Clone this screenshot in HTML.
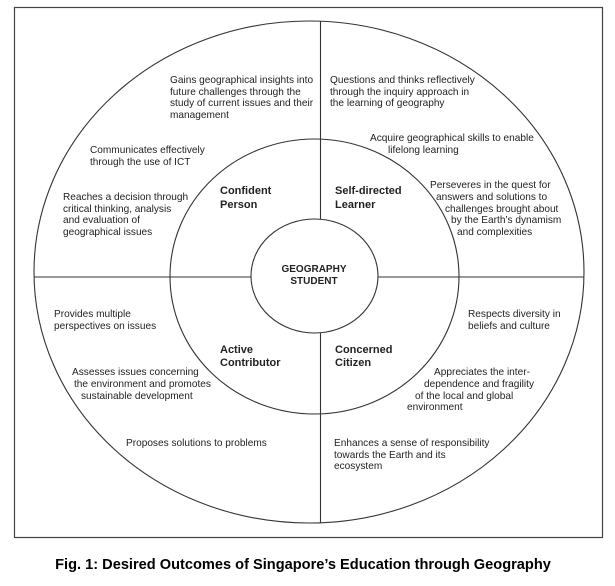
<!DOCTYPE html>
<html><head><meta charset="utf-8"><style>
html,body{margin:0;padding:0;background:#fff;}
svg{display:block;}
text{font-family:"Liberation Sans",Arial,sans-serif;fill:#222;}
.s{font-size:10.1px;}
.b{font-size:11px;font-weight:bold;}
.c{font-size:10px;font-weight:bold;}
</style></head><body>
<svg width="615" height="586" viewBox="0 0 615 586" xmlns="http://www.w3.org/2000/svg">
<rect x="14.5" y="7.5" width="588" height="530" fill="none" stroke="#444" stroke-width="1.2"/>
<g fill="none" stroke="#333" stroke-width="1.1">
<ellipse cx="309" cy="272" rx="275" ry="251"/>
<ellipse cx="314.5" cy="276.5" rx="144.5" ry="137.5"/>
<ellipse cx="314.5" cy="276" rx="63.5" ry="57"/>
<line x1="34" y1="277" x2="251" y2="277"/>
<line x1="378" y1="277" x2="584" y2="277"/>
<line x1="320.5" y1="21" x2="320.5" y2="219"/>
<line x1="320.5" y1="333" x2="320.5" y2="523"/>
</g>
<g class="s">
<text x="170" y="83">Gains geographical insights into</text>
<text x="170" y="95">future challenges through the</text>
<text x="170" y="106">study of current issues and their</text>
<text x="170" y="118">management</text>
<text x="330" y="83">Questions and thinks reflectively</text>
<text x="330" y="95">through the inquiry approach in</text>
<text x="330" y="106">the learning of geography</text>
<text x="370" y="141">Acquire geographical skills to enable</text>
<text x="388" y="153">lifelong learning</text>
<text x="90" y="153">Communicates effectively</text>
<text x="90" y="165">through the use of ICT</text>
<text x="63" y="200">Reaches a decision through</text>
<text x="63" y="212">critical thinking, analysis</text>
<text x="63" y="223">and evaluation of</text>
<text x="63" y="235">geographical issues</text>
<text x="430" y="188">Perseveres in the quest for</text>
<text x="436" y="200">answers and solutions to</text>
<text x="445" y="212">challenges brought about</text>
<text x="451" y="223">by the Earth’s dynamism</text>
<text x="457" y="235">and complexities</text>
<text x="54" y="317">Provides multiple</text>
<text x="54" y="329">perspectives on issues</text>
<text x="468" y="317">Respects diversity in</text>
<text x="468" y="329">beliefs and culture</text>
<text x="72" y="375">Assesses issues concerning</text>
<text x="74" y="387">the environment and promotes</text>
<text x="81" y="399">sustainable development</text>
<text x="434" y="375">Appreciates the inter-</text>
<text x="424" y="387">dependence and fragility</text>
<text x="415" y="399">of the local and global</text>
<text x="407" y="410">environment</text>
<text x="126" y="446">Proposes solutions to problems</text>
<text x="334" y="446">Enhances a sense of responsibility</text>
<text x="334" y="458">towards the Earth and its</text>
<text x="334" y="469">ecosystem</text>
</g>
<g class="b">
<text x="220" y="194">Confident</text>
<text x="220" y="208">Person</text>
<text x="335" y="194">Self-directed</text>
<text x="335" y="208">Learner</text>
<text x="220" y="353">Active</text>
<text x="220" y="366">Contributor</text>
<text x="335" y="353">Concerned</text>
<text x="335" y="366">Citizen</text>
</g>
<g class="c" text-anchor="middle">
<text x="314" y="272">GEOGRAPHY</text>
<text x="314" y="284">STUDENT</text>
</g>
<text x="303" y="569" text-anchor="middle" style="font-size:14.6px;font-weight:bold;fill:#000;">Fig. 1: Desired Outcomes of Singapore’s Education through Geography</text>
</svg>
</body></html>
